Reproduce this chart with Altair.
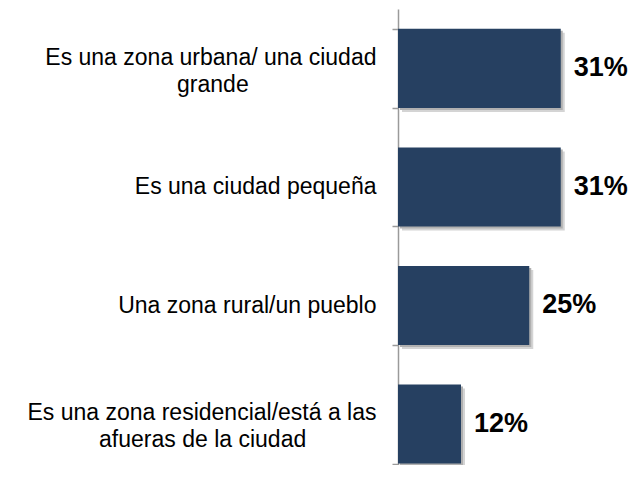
import altair as alt
import pandas as pd

# ---- data ----
categories = [
    "Es una zona urbana/ una ciudad|grande",
    "Es una ciudad pequeña",
    "Una zona rural/un pueblo",
    "Es una zona residencial/está a las|afueras de la ciudad",
]
values = [0.31, 0.31, 0.25, 0.12]
value_labels = ["31%", "31%", "25%", "12%"]

# approximate Arial/Liberation Sans advance widths (1/1000 em) used to centre
# the second line of a two-line label under the first one
WIDTHS = {
    " ": 278, "/": 278, "a": 556, "b": 556, "c": 500, "d": 556, "e": 556, "f": 278,
    "g": 556, "h": 556, "i": 222, "j": 222, "k": 500, "l": 222, "m": 833, "n": 556,
    "o": 556, "p": 556, "q": 556, "r": 333, "s": 500, "t": 278, "u": 556, "v": 500,
    "w": 722, "x": 500, "y": 500, "z": 500, "E": 667, "U": 722, "ñ": 556, "á": 556,
}


def text_width(s):
    return sum(WIDTHS.get(ch, 556) for ch in s)


def centre_lines(label):
    lines = label.split("|")
    wmax = max(text_width(l) for l in lines)
    out = []
    for l in lines:
        n = round((wmax - text_width(l)) / 2 / 278)
        # no-break spaces followed by a zero-width space so that trimming keeps them
        out.append(l + ("\u00a0" * n + "\u200b" if n else ""))
    return "|".join(out)


cats = [centre_lines(c) for c in categories]
df = pd.DataFrame({"cat": cats, "value": values, "label": value_labels})

y = alt.Y(
    "cat:N",
    sort=cats,
    scale=alt.Scale(paddingInner=0.333, paddingOuter=0.09, align=0.93),
    axis=alt.Axis(
        title=None,
        labelExpr="split(datum.label, '|')",
        labelFont="Liberation Sans",
        labelFontSize=23,
        labelColor="black",
        labelLimit=400,
        labelPadding=16,
        labelLineHeight=27,
        labelOffset={
            "condition": {"test": "indexof(datum.label, '|') >= 0", "value": -11},
            "value": 0,
        },
        tickBand="extent",
        tickSize=6,
        tickColor="#9a9a9a",
        tickWidth=1.5,
        domainColor="#9a9a9a",
        domainWidth=1.5,
    ),
)
x = alt.X("value:Q", scale=alt.Scale(domain=[0, 0.4]), axis=None)

base = alt.Chart(df)
shadow_far = base.mark_bar(
    color="#d4d4d4", xOffset=4, x2Offset=4, yOffset=4, y2Offset=4
).encode(x=x, y=y)
shadow_near = base.mark_bar(
    color="#b0b0b0", xOffset=2, x2Offset=2, yOffset=2, y2Offset=2
).encode(x=x, y=y)
bars = base.mark_bar(color="#264061").encode(x=x, y=y)
text = base.mark_text(
    align="left",
    baseline="middle",
    dx=13,
    font="Liberation Sans",
    fontSize=27,
    fontWeight="bold",
    color="black",
).encode(x=x, y=y, text="label:N")

chart = (
    alt.layer(shadow_far, shadow_near, bars, text)
    .properties(
        width=210,
        height=456,
        padding={"left": 390, "top": 1, "right": 20, "bottom": 0},
        autosize=alt.AutoSizeParams(type="none"),
    )
    .configure_view(stroke=None)
)

chart.save("out.html", embed_options={"renderer": "svg", "actions": False})
